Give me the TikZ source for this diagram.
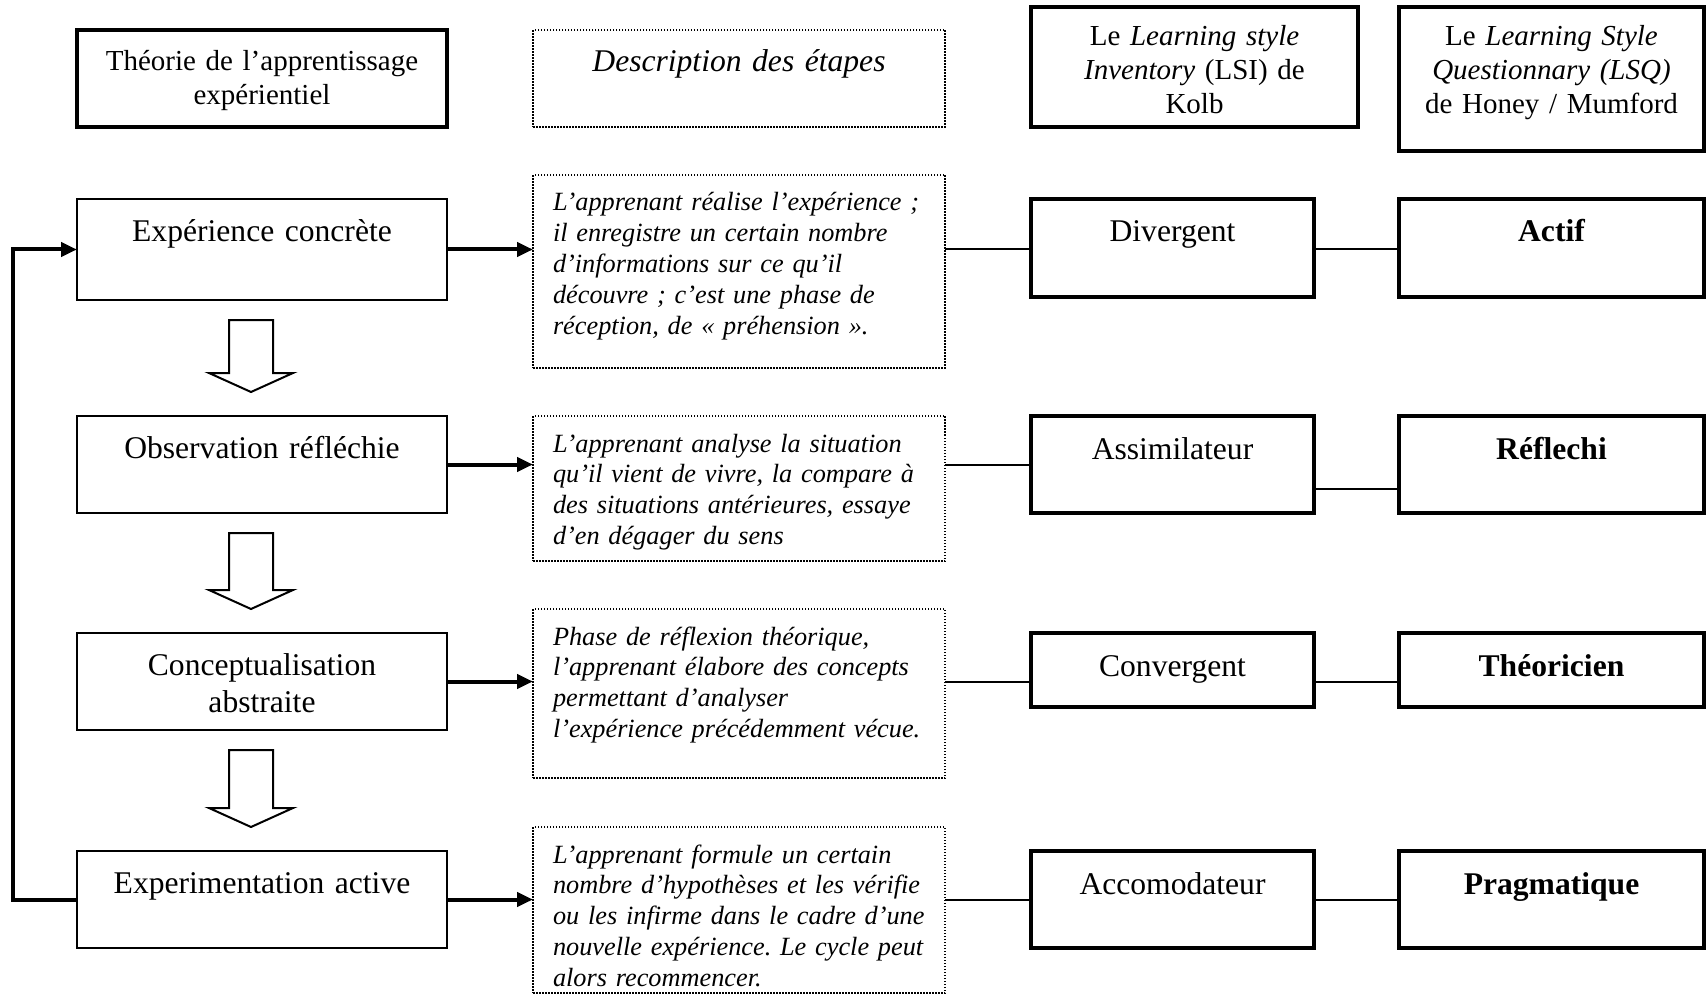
\documentclass[tikz,border=0pt]{standalone}
\usepackage{fontspec}
\setmainfont{Liberation Serif}
\usetikzlibrary{arrows.meta,calc}
\frenchspacing

\begin{document}
\begin{tikzpicture}[x=1pt,y=-1pt,
  every node/.style={anchor=north west,inner sep=0pt,outer sep=0pt},
  stage/.style={draw,line width=2pt,text width=370pt,text height=42pt,text depth=#1,align=center,font=\fontsize{31.6}{37}\selectfont},
  phase/.style={draw,line width=1.5pt,dash pattern=on 1.5pt off 1.5pt,inner xsep=20pt,text width=372pt,text height=36pt,text depth=#1,align=left,font=\fontsize{26.3}{30.8}\selectfont\itshape},
  kolb/.style={draw,line width=4.5pt,text width=283pt,text height=43pt,text depth=#1,align=center,font=\fontsize{31.6}{37}\selectfont},
  honey/.style={kolb=#1,text width=305pt,font=\fontsize{31.6}{37}\selectfont\bfseries},
  head/.style={draw,line width=4pt,text height=41pt,align=center,font=\fontsize{29}{34}\selectfont},
  flow/.style={line width=4pt,-{Triangle[length=16pt,width=14pt]}},
  link/.style={line width=2pt},
  hollow/.style={draw,line width=2pt,fill=white}]

\useasboundingbox (0,0) rectangle (1706,995);

% column heads
\node[head,text width=370pt,text depth=56pt](theory) at (77,30){Théorie de l’apprentissage\\expérientiel};
\node[phase=55pt,inner xsep=0pt,text width=412pt,text height=42pt,align=center,font=\fontsize{31.6}{37}\selectfont\itshape](steps) at (533,30){Description des étapes};
\node[head,text width=327pt,text height=39pt,text depth=81pt,font=\fontsize{29}{33.7}\selectfont](lsi) at (1031,7){Le \textit{Learning style}\\\textit{Inventory} (LSI) de\\Kolb};
\node[head,text width=305pt,text height=39pt,text depth=105pt,font=\fontsize{29}{33.7}\selectfont](lsq) at (1399,7){Le \textit{Learning Style}\\\textit{Questionnary (LSQ)}\\de Honey / Mumford};

% the four stages of the cycle
\node[stage=58pt,text height=43pt](exp) at (77,199){Expérience concrète};
\node[stage=55pt](obs) at (77,416){Observation réfléchie};
\node[stage=55pt](con) at (77,633){Conceptualisation\\abstraite};
\node[stage=55pt](act) at (77,851){Experimentation active};

\node[phase=157pt](d1) at (533,175){L’apprenant réalise l’expérience~;\\il enregistre un certain nombre\\d’informations sur ce qu’il\\découvre~; c’est une phase de\\réception, de «~préhension~».};
\node[phase=109pt](d2) at (533,416){L’apprenant analyse la situation\\qu’il vient de vivre, la compare à\\des situations antérieures, essaye\\d’en dégager du sens};
\node[phase=133pt](d3) at (533,609){Phase de réflexion théorique,\\l’apprenant élabore des concepts\\permettant d’analyser\\l’expérience précédemment vécue.};
\node[phase=130pt](d4) at (533,827){L’apprenant formule un certain\\nombre d’hypothèses et les vérifie\\ou les infirme dans le cadre d’une\\nouvelle expérience. Le cycle peut\\alors recommencer.};

\node[kolb=55pt](lsi1) at (1031,199){Divergent};
\node[kolb=54pt](lsi2) at (1031,416){Assimilateur};
\node[kolb=31pt](lsi3) at (1031,633){Convergent};
\node[kolb=54pt](lsi4) at (1031,851){Accomodateur};

\node[honey=55pt](lsq1) at (1399,199){Actif};
\node[honey=54pt](lsq2) at (1399,416){Réflechi};
\node[honey=31pt](lsq3) at (1399,633){Théoricien};
\node[honey=54pt](lsq4) at (1399,851){Pragmatique};

% hollow arrows down the cycle
\foreach \u/\v in {exp/obs,obs/con,con/act}
  \draw[hollow] ($(\u.south)+(-33,20)$) -- ++(44,0) |- ($(\v.north)+(31,-43)$)
    -- ($(\v.north)+(-11,-24)$) -- ($(\v.north)+(-53,-43)$) -- ++(20,0) -- cycle;

% rows: stage -> description -> Kolb -> Honey/Mumford
\foreach \a/\d/\k in {exp/d1/lsi1,obs/d2/lsi2,con/d3/lsi3,act/d4/lsi4}{
  \draw[flow] (\a.east) -- (\a.east -| \d.west);
  \draw[link] (\a.east -| \d.east) -- (\a.east -| \k.west);
}
\foreach \a/\k/\h in {exp/lsi1/lsq1,con/lsi3/lsq3,act/lsi4/lsq4}
  \draw[link] (\a.east -| \k.east) -- (\a.east -| \h.west);
\draw[link] ([yshift=-24pt]lsi2.east) -- ([yshift=-24pt]lsi2.east -| lsq2.west);

% back to the start
\draw[flow] (act.west) -- ++(-64,0) |- (exp.west);

\end{tikzpicture}
\end{document}
